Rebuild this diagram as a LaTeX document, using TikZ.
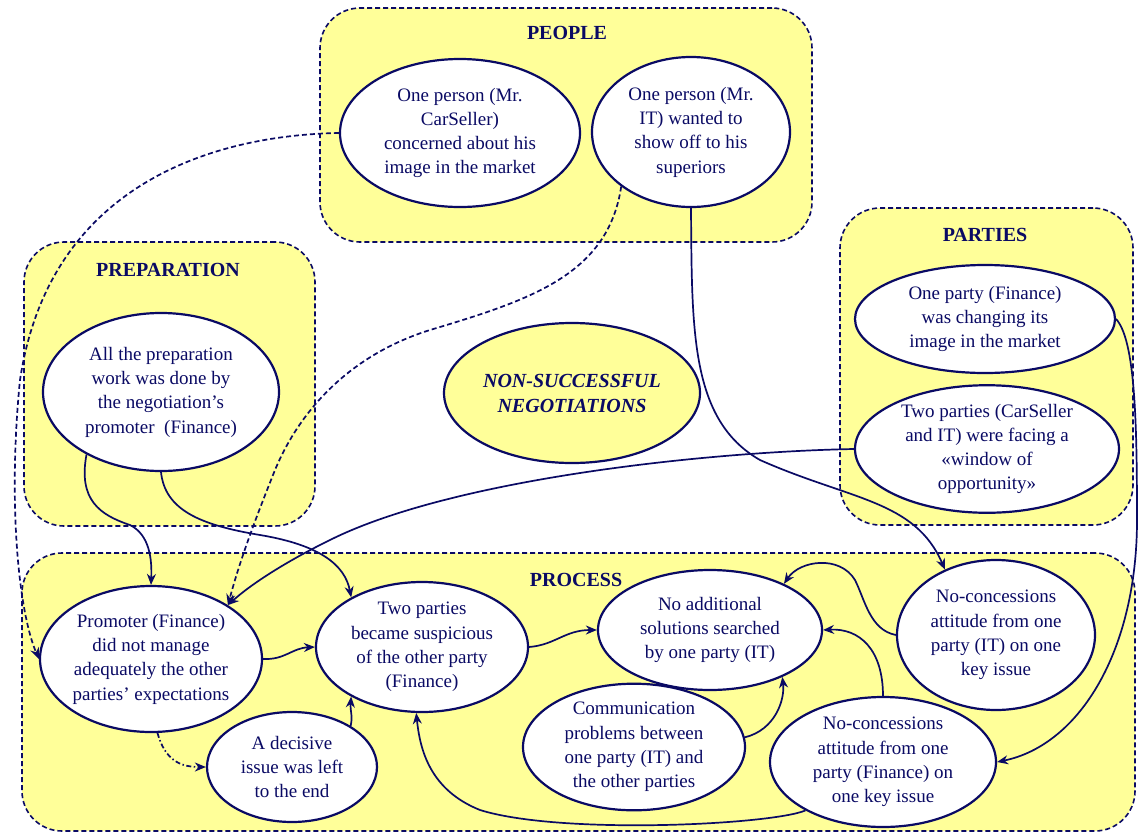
\documentclass[tikz,border=0pt]{standalone}
\usepackage{fontspec}
\setmainfont{Liberation Serif}
\usetikzlibrary{shapes.geometric,arrows.meta}
\definecolor{navy}{RGB}{10,10,100}
\definecolor{pale}{RGB}{255,255,153}
\begin{document}
\begin{tikzpicture}[x=1pt,y=-1pt,
  group/.style={draw=navy,dash pattern=on 5pt off 3pt,line width=1.6pt,fill=pale,
    rounded corners=40pt,inner sep=0pt},
  idea/.style={ellipse,draw=navy,line width=2.2pt,fill=white,inner sep=0pt,
    align=center,text=navy,font=\fontsize{19}{24.3}\selectfont},
  heading/.style={text=navy,font=\fontsize{20}{24}\selectfont\bfseries},
  link/.style={draw=navy,line width=1.7pt,-{Stealth[length=11pt,width=9pt]}},
  dashlink/.style={link,dash pattern=on 5pt off 3pt},
  dotlink/.style={link,dash pattern=on 5pt off 2.5pt on 1.5pt off 2.5pt},
]
\useasboundingbox (0,0) rectangle (1138,833);
\fill[white] (0,0) rectangle (1138,833);

% group boxes
\node[group,minimum width=492pt,minimum height=234pt] (peoplebox) at (566,125) {};
\node[group,minimum width=291pt,minimum height=284pt] (prepbox) at (169.5,384) {};
\node[group,minimum width=293pt,minimum height=317pt] (partiesbox) at (986.5,366.5) {};
\node[group,minimum width=1113pt,minimum height=278pt] (processbox) at (578.5,692) {};

\node[heading] (peopletitle) at (567,33) {PEOPLE};
\node[heading] (preptitle) at (168,270) {PREPARATION};
\node[heading] (partiestitle) at (985,235) {PARTIES};
\node[heading] (processtitle) at (576,580) {PROCESS};

% PEOPLE
\node[idea,minimum width=240pt,minimum height=148pt] (carseller) at (460,133)
  {One person (Mr.\\CarSeller)\\concerned about his\\image in the market};
\node[idea,minimum width=198pt,minimum height=150pt] (itperson) at (691,132)
  {One person (Mr.\\IT) wanted to\\show off to his\\superiors};

% PREPARATION
\node[idea,minimum width=236pt,minimum height=158pt] (prep) at (161,392)
  {All the preparation\\work was done by\\the negotiation’s\\promoter~ (Finance)};

% centre
\node[idea,fill=pale,minimum width=256pt,minimum height=140pt,
  font=\fontsize{20}{25}\selectfont\bfseries\itshape] (nonsucc) at (572,393)
  {NON-SUCCESSFUL\\NEGOTIATIONS};

% PARTIES
\node[idea,minimum width=260pt,minimum height=108pt] (finparty) at (985,319)
  {One party (Finance)\\was changing its\\image in the market};
\node[idea,minimum width=264pt,minimum height=120pt] (twoparties) at (987,449)
  {Two parties (CarSeller\\and IT) were facing a\\«window of\\opportunity»};

% PROCESS
\node[idea,minimum width=222pt,minimum height=146pt] (promoter) at (151,659)
  {Promoter (Finance)\\did not manage\\adequately the other\\parties’ expectations};
\node[idea,minimum width=212pt,minimum height=130pt] (suspicious) at (422,647)
  {Two parties\\became suspicious\\of the other party\\(Finance)};
\node[idea,minimum width=170pt,minimum height=110pt] (decisive) at (292,767)
  {A decisive\\issue was left\\to the end};
\node[idea,minimum width=224pt,minimum height=120pt] (noadd) at (710,630)
  {No additional\\solutions searched\\by one party (IT)};
\node[idea,minimum width=222pt,minimum height=116pt] (comm) at (634,747)
  {Communication\\problems between\\one party (IT) and\\the other parties};
\node[idea,minimum width=198pt,minimum height=150pt] (nocit) at (996,635)
  {No-concessions\\attitude from one\\party (IT) on one\\key issue};
\node[idea,minimum width=226pt,minimum height=130pt] (nocfin) at (883,762)
  {No-concessions\\attitude from one\\party (Finance) on\\one key issue};

% connectors
\draw[dashlink] (carseller.west) .. controls (220,135) and (50,180) .. (20,380)
  .. controls (8,500) and (18,610) .. (promoter.west);
\draw[dashlink] (itperson.218) .. controls (608,275) and (530,300) .. (430,330)
  .. controls (350,355) and (300,410) .. (275,470)
  .. controls (255,520) and (240,560) .. (promoter.35);
\draw[link] (itperson.south) .. controls (692,330) and (690,420) .. (760,460)
  .. controls (850,500) and (915,500) .. (nocit.128);
\draw[link] (finparty.east) .. controls (1135,340) and (1137,420) .. (1137,520)
  .. controls (1137,650) and (1080,745) .. (nocfin.east);
\draw[link] (twoparties.west) .. controls (700,452) and (450,480) .. (330,540)
  .. controls (285,562) and (250,585) .. (promoter.35);
\draw[link] (prep.220) .. controls (78,500) and (100,515) .. (130,525)
  .. controls (150,535) and (152,560) .. (promoter.north);
\draw[link] (prep.south) .. controls (165,510) and (200,525) .. (260,535)
  .. controls (320,545) and (345,565) .. (suspicious.145);
\draw[link] (promoter.east) .. controls (285,660) and (292,648) .. (suspicious.west);
\draw[dotlink] (promoter.275) .. controls (165,760) and (180,767) .. (decisive.west);
\draw[link] (decisive.35) .. controls (353,715) and (350,712) .. (suspicious.215);
\draw[link] (suspicious.east) .. controls (555,645) and (565,630) .. (noadd.west);
\draw[link] (comm.5) .. controls (775,730) and (785,700) .. (noadd.-33);
\draw[link] (nocfin.north) .. controls (883,650) and (860,628) .. (noadd.east);
\draw[link] (nocit.west) .. controls (870,630) and (865,600) .. (855,580)
  .. controls (840,555) and (800,560) .. (noadd.32);
\draw[link] (nocfin.212) .. controls (770,825) and (560,835) .. (480,810)
  .. controls (430,790) and (420,750) .. (suspicious.265);
\end{tikzpicture}
\end{document}
